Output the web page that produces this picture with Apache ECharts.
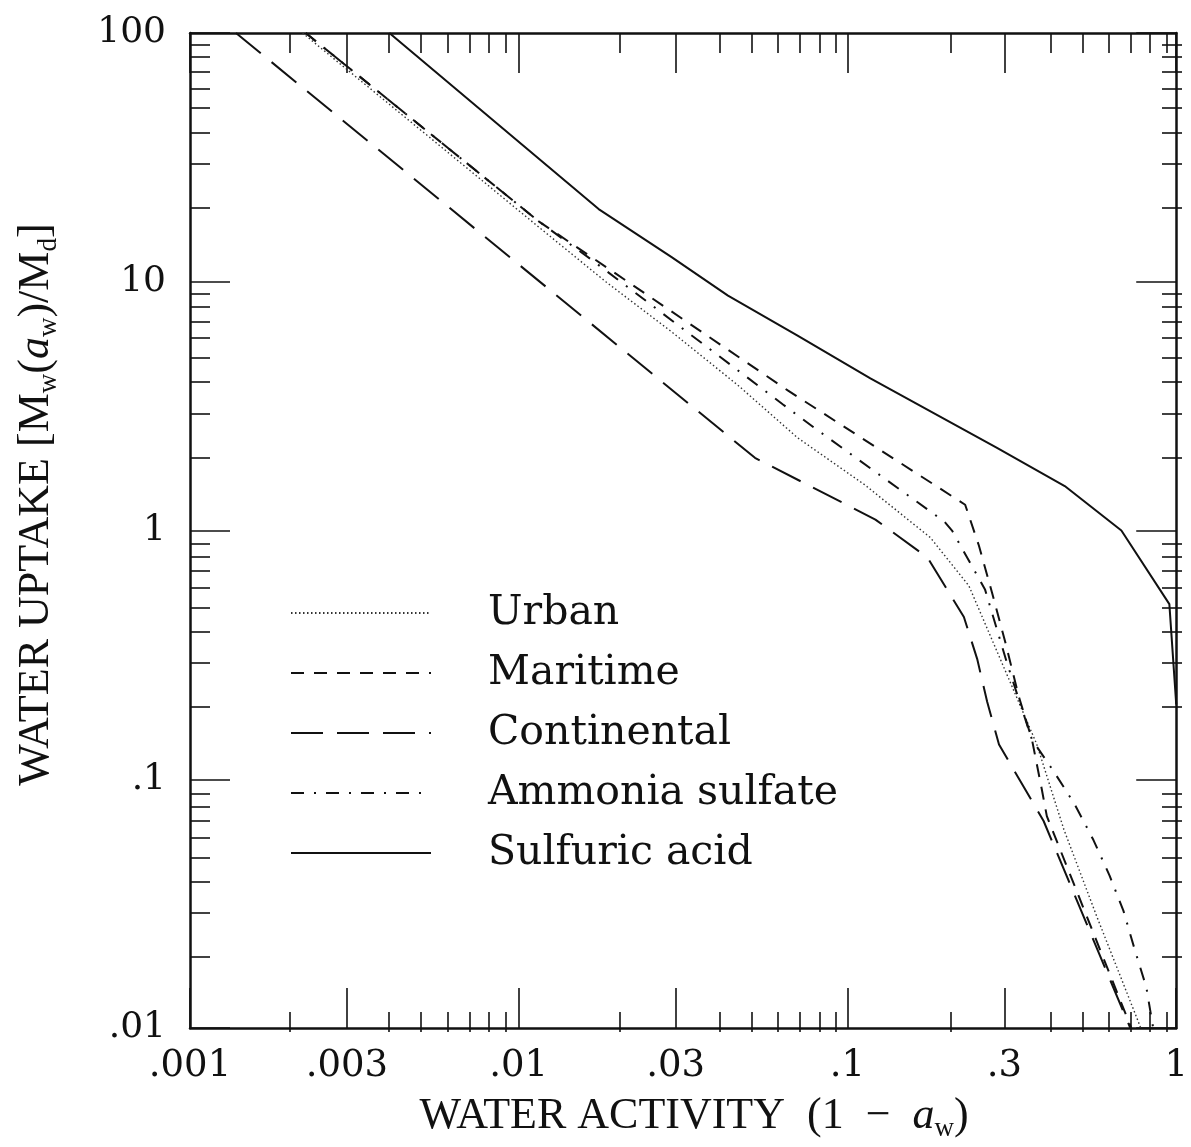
<!DOCTYPE html>
<html>
<head>
<meta charset="utf-8">
<script src="https://cdn.jsdelivr.net/npm/echarts@6/dist/echarts.min.js"></script>
<style>
html,body{margin:0;padding:0;background:#fff;}
#chart{width:1191px;height:1147px;}
</style>
</head>
<body>
<div id="chart"></div>
<script>
// ---- data (x = 1 - a_w, y = water uptake) ----
const urbanX = [0.0022, 0.0115, 0.0184, 0.0291, 0.0464, 0.0705, 0.1126, 0.1786, 0.234, 0.305, 0.376, 0.455, 0.572, 0.767, 0.78];
const urbanY = [100, 16.6, 10, 6.31, 3.84, 2.36, 1.53, 0.938, 0.60, 0.265, 0.139, 0.063, 0.0283, 0.0106, 0.01];

const maritimeX = [0.00225, 0.0115, 0.0658, 0.228, 0.251, 0.275, 0.303, 0.332, 0.364, 0.39, 0.404, 0.73];
const maritimeY = [100, 17.5, 3.66, 1.27, 0.871, 0.565, 0.35, 0.215, 0.1445, 0.0912, 0.0711, 0.01];

const continentalX = [0.00138, 0.0523, 0.1216, 0.175, 0.226, 0.248, 0.266, 0.289, 0.395, 0.725];
const continentalY = [100, 1.96, 1.107, 0.78, 0.449, 0.305, 0.205, 0.138, 0.068, 0.01];

const ammoniaX = [0.00225, 0.0115, 0.01688, 0.0635, 0.0795, 0.197, 0.208, 0.262, 0.305, 0.364, 0.424, 0.491, 0.56, 0.627, 0.691, 0.746, 0.811, 0.851];
const ammoniaY = [100, 17.5, 12.1, 3.22, 2.58, 1.087, 1.0, 0.58, 0.296, 0.1445, 0.1076, 0.0794, 0.057, 0.041, 0.0296, 0.0209, 0.0146, 0.01];

const sulfuricX = [0.00404, 0.0175, 0.0291, 0.0433, 0.0705, 0.1174, 0.285, 0.458, 0.681, 0.953, 1.0];
const sulfuricY = [100, 19.6, 12.6, 8.8, 6.08, 4.09, 2.15, 1.51, 1.0, 0.506, 0.2];

const seriesNames = ['Urban', 'Maritime', 'Continental', 'Ammonia sulfate', 'Sulfuric acid'];

// ---- tick values and labels ----
const xMajorTicks = [0.001, 0.003, 0.01, 0.03, 0.1, 0.3, 1];
const xMajorLabels = ['.001', '.003', '.01', '.03', '.1', '.3', '1'];
const xMinorTicks = [0.002, 0.004, 0.005, 0.006, 0.007, 0.008, 0.009,
                     0.02, 0.04, 0.05, 0.06, 0.07, 0.08, 0.09,
                     0.2, 0.4, 0.5, 0.6, 0.7, 0.8, 0.9];
const yMajorTicks = [0.01, 0.1, 1, 10, 100];
const yMajorLabels = ['.01', '.1', '1', '10', '100'];
const yMinorTicks = [0.02, 0.03, 0.04, 0.05, 0.06, 0.07, 0.08, 0.09,
                     0.2, 0.3, 0.4, 0.5, 0.6, 0.7, 0.8, 0.9,
                     2, 3, 4, 5, 6, 7, 8, 9,
                     20, 30, 40, 50, 60, 70, 80, 90];

// ---- build ----
const L = v => Math.log10(v);
const pairs = (xs, ys) => xs.map((x, i) => [L(x), L(ys[i])]);
function labelFor(ticks, labels) {
  return function (v) {
    let best = 0, bd = Infinity;
    ticks.forEach((t, i) => { const d = Math.abs(L(t) - v); if (d < bd) { bd = d; best = i; } });
    return bd < 1e-6 ? labels[best] : '';
  };
}
const INK = '#111';
const gridRect = { left: 190, right: 9, top: 33, bottom: 115 };
const XMIN = L(0.001), XMAX = L(1), YMIN = L(0.01), YMAX = L(100);

function xAxisDef(grid, pos, ticks, len, withLabels, withLine, extra) {
  return Object.assign({
    type: 'value', gridIndex: grid, position: pos, min: XMIN, max: XMAX,
    axisLine: { show: withLine, onZero: false, lineStyle: { color: INK, width: 2.5 } },
    axisTick: { show: true, inside: true, length: len, customValues: ticks.map(L), lineStyle: { color: INK, width: 1.6 } },
    axisLabel: withLabels ? {
      show: true, customValues: xMajorTicks.map(L), margin: 20,
      fontFamily: 'DejaVu Serif', fontSize: 37, color: INK,
      formatter: labelFor(xMajorTicks, xMajorLabels)
    } : { show: false },
    splitLine: { show: false }
  }, extra || {});
}
function yAxisDef(grid, pos, ticks, len, withLabels, withLine, extra) {
  return Object.assign({
    type: 'value', gridIndex: grid, position: pos, min: YMIN, max: YMAX,
    axisLine: { show: withLine, onZero: false, lineStyle: { color: INK, width: 2.5 } },
    axisTick: { show: true, inside: true, length: len, customValues: ticks.map(L), lineStyle: { color: INK, width: 1.6 } },
    axisLabel: withLabels ? {
      show: true, customValues: yMajorTicks.map(L), margin: 24,
      fontFamily: 'DejaVu Serif', fontSize: 36, color: INK,
      formatter: labelFor(yMajorTicks, yMajorLabels)
    } : { show: false },
    splitLine: { show: false }
  }, extra || {});
}

const serifRich = {
  s: { fontFamily: 'Liberation Serif', fontSize: 27, lineHeight: 24, verticalAlign: 'bottom', color: INK },
  i: { fontFamily: 'Liberation Serif', fontSize: 44, fontStyle: 'italic', lineHeight: 52, color: INK }
};

const xAxes = [
  xAxisDef(0, 'bottom', xMajorTicks, 40, true, true, {
    name: 'WATER ACTIVITY  (1  \u2212  {i|a}{s|w})',
    nameLocation: 'middle', nameGap: 52,
    nameTextStyle: { fontFamily: 'Liberation Serif', fontSize: 44, lineHeight: 52, color: INK, padding: [0, 0, 0, 22], rich: serifRich }
  }),
  xAxisDef(0, 'top', xMajorTicks, 40, false, true),
  xAxisDef(1, 'bottom', xMinorTicks, 20, false, false),
  xAxisDef(1, 'top', xMinorTicks, 20, false, false)
];
const yAxes = [
  yAxisDef(0, 'left', yMajorTicks, 40, true, true, {
    name: 'WATER UPTAKE [M{s|w}({i|a}{s|w})/M{s|d}]',
    nameLocation: 'middle', nameGap: 128,
    nameTextStyle: { fontFamily: 'Liberation Serif', fontSize: 44, lineHeight: 52, color: INK, padding: [0, 0, 0, 52], rich: serifRich }
  }),
  yAxisDef(0, 'right', yMajorTicks, 40, false, true),
  yAxisDef(1, 'left', yMinorTicks, 20, false, false),
  yAxisDef(1, 'right', yMinorTicks, 20, false, false)
];

const styles = [
  { color: '#333', width: 1.4, type: [1.5, 2.5] },
  { color: INK, width: 2, type: [13, 10] },
  { color: INK, width: 2, type: [32, 14] },
  { color: INK, width: 2, type: [13, 10, 2, 10] },
  { color: INK, width: 2, type: 'solid' }
];
const dataSets = [
  pairs(urbanX, urbanY),
  pairs(maritimeX, maritimeY),
  pairs(continentalX, continentalY),
  pairs(ammoniaX, ammoniaY),
  pairs(sulfuricX, sulfuricY)
];

const series = seriesNames.map((n, i) => ({
  name: n, type: 'line', xAxisIndex: 0, yAxisIndex: 0,
  data: dataSets[i], symbol: 'none', smooth: false, clip: true,
  lineStyle: styles[i], itemStyle: { color: styles[i].color },
  emphasis: { disabled: true }, silent: true, animation: false
}));

const chart = echarts.init(document.getElementById('chart'), null, { renderer: 'canvas' });
chart.setOption({
  animation: false,
  backgroundColor: '#fff',
  grid: [Object.assign({}, gridRect, { containLabel: false }), Object.assign({}, gridRect, { containLabel: false })],
  xAxis: xAxes,
  yAxis: yAxes,
  legend: {
    data: seriesNames,
    orient: 'vertical',
    left: 290, top: 588, padding: 0,
    itemWidth: 140, itemHeight: 20, itemGap: 10,
    selectedMode: false,
    itemStyle: { opacity: 0, borderWidth: 0 },
    textStyle: { fontFamily: 'DejaVu Serif', fontSize: 41, color: INK, lineHeight: 50, padding: [0, 0, 0, 52] }
  },
  series: series
});
</script>
</body>
</html>
